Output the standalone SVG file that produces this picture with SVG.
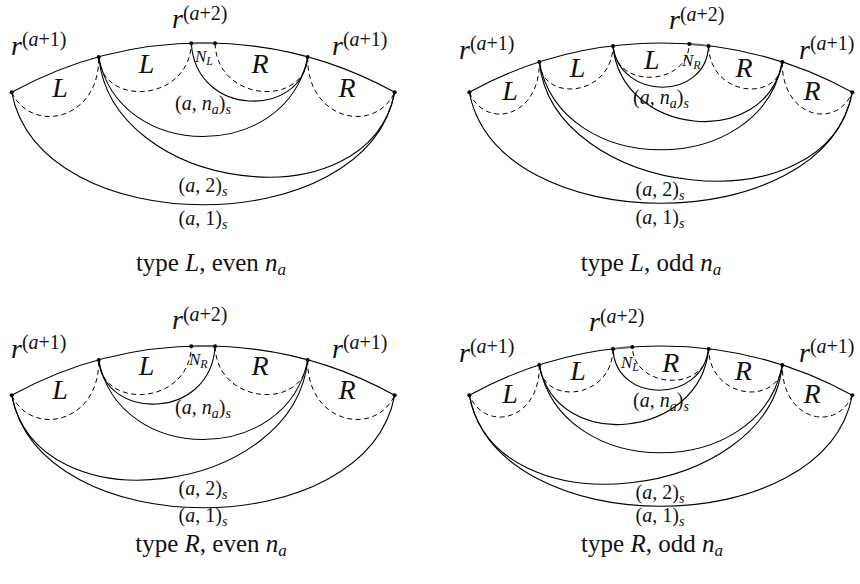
<svg xmlns="http://www.w3.org/2000/svg" xmlns:xlink="http://www.w3.org/1999/xlink" width="860" height="584" viewBox="0 0 860 584">
<defs>
<style>
.ln{fill:none;stroke:#000;stroke-width:1.1}
.da{fill:none;stroke:#000;stroke-width:1;stroke-dasharray:5 3.5}
.hl{fill:none;stroke:#666;stroke-width:1.9}
text{font-family:"Liberation Serif","Times New Roman",serif;fill:#111}
.big{font-size:28px;font-style:italic}
.sup{font-size:20px;font-style:normal}
.sm{font-size:20px}
.sub{font-size:14px}
.nn{font-size:17px;font-style:italic}
.nsub{font-size:12px}
.cap{font-size:25px}
.csub{font-size:17px}
.i{font-style:italic}
</style>
<circle id="dot" r="2" fill="#000"/>
</defs>

<!-- Panel 1: type L, even -->
<g id="panel1">
<g id="p1-connectors">
<path class="ln" d="M11.7,92.3 A396.6,396.6 0 0 1 394.7,92.3"/>
<path class="hl" d="M191.3,43.2 A396.6,396.6 0 0 1 215.1,43.2"/>
<path class="da" d="M11.7,92.3 C32,135 100,120 98.7,57"/>
<path class="da" d="M98.7,57 C102,108 190,102 191.3,43.2"/>
<path class="da" d="M215.1,43.2 C216.4,102 304.4,108 307.7,57"/>
<path class="da" d="M307.7,57 C306.4,120 374.4,135 394.7,92.3"/>
<path class="ln" d="M191.3,43.2 C196,118 302,118 307.7,57"/>
<path class="ln" d="M98.7,57 C119,163 287,163 307.7,57"/>
<path class="ln" d="M98.7,57 C112,192 368,226 394.7,92.3"/>
<path class="ln" d="M11.7,92.3 C40.7,242.3 365.7,242.3 394.7,92.3"/>
</g>
<g id="p1-n0"><use xlink:href="#dot" x="11.7" y="92.3"/></g>
<g id="p1-n1"><use xlink:href="#dot" x="98.7" y="57"/></g>
<g id="p1-n2"><use xlink:href="#dot" x="191.3" y="43.2"/></g>
<g id="p1-n3"><use xlink:href="#dot" x="215.1" y="43.2"/></g>
<g id="p1-n4"><use xlink:href="#dot" x="307.7" y="57"/></g>
<g id="p1-n5"><use xlink:href="#dot" x="394.7" y="92.3"/></g>
<g id="p1-labels">
<text class="big" x="11" y="55">r<tspan class="sup" dy="-9">(<tspan class="i">a</tspan>+1)</tspan></text>
<text class="big" x="172" y="28">r<tspan class="sup" dy="-8">(<tspan class="i">a</tspan>+2)</tspan></text>
<text class="big" x="332" y="55">r<tspan class="sup" dy="-9">(<tspan class="i">a</tspan>+1)</tspan></text>
<text class="big" x="60" y="97" text-anchor="middle">L</text>
<text class="big" x="146.5" y="73" text-anchor="middle">L</text>
<text class="big" x="260" y="73" text-anchor="middle">R</text>
<text class="big" x="347" y="97" text-anchor="middle">R</text>
<text class="nn" x="195" y="62">N<tspan class="nsub" dy="3">L</tspan></text>
<text class="sm" x="203" y="110" text-anchor="middle">(<tspan class="i">a</tspan>, <tspan class="i">n</tspan><tspan class="sub i" dy="4">a</tspan><tspan dy="-4">)</tspan><tspan class="sub i" dy="4">s</tspan></text>
<text class="sm" x="203" y="192" text-anchor="middle">(<tspan class="i">a</tspan>, 2)<tspan class="sub i" dy="4">s</tspan></text>
<text class="sm" x="203" y="225" text-anchor="middle">(<tspan class="i">a</tspan>, 1)<tspan class="sub i" dy="4">s</tspan></text>
<text class="cap" x="211" y="271" text-anchor="middle">type <tspan class="i">L</tspan>, even <tspan class="i">n</tspan><tspan class="csub i" dy="4">a</tspan></text>
</g>
</g>

<!-- Panel 2: type L, odd -->
<g id="panel2">
<g id="p2-connectors">
<path class="ln" d="M469.3,92.3 A396.6,396.6 0 0 1 852.3,92.3"/>
<path class="hl" d="M689.3,44.03 A396.6,396.6 0 0 1 708.6,45.9"/>
<path class="da" d="M469.3,92.3 C485,130 540,118 539.3,62.1"/>
<path class="da" d="M539.3,62.1 C542,103 612,97 613,45.9"/>
<path class="da" d="M613,45.9 C615,90 688,86 689.3,44.03"/>
<path class="da" d="M708.6,45.9 C709.6,97 779.6,103 782.3,62.1"/>
<path class="da" d="M782.3,62.1 C781.6,118 836.6,130 852.3,92.3"/>
<path class="ln" d="M613,45.9 C620,101 706,101 708.6,45.9"/>
<path class="ln" d="M613,45.9 C621,135.6 765,151.1 782.3,62.1"/>
<path class="ln" d="M539.3,62.1 C561.3,179 760.3,179 782.3,62.1"/>
<path class="ln" d="M539.3,62.1 C553,197 826,231 852.3,92.3"/>
<path class="ln" d="M469.3,92.3 C498,240.3 823.6,240.3 852.3,92.3"/>
</g>
<g id="p2-n0"><use xlink:href="#dot" x="469.3" y="92.3"/></g>
<g id="p2-n1"><use xlink:href="#dot" x="539.3" y="62.1"/></g>
<g id="p2-n2"><use xlink:href="#dot" x="613" y="45.9"/></g>
<g id="p2-n3"><use xlink:href="#dot" x="689.3" y="44.03"/></g>
<g id="p2-n4"><use xlink:href="#dot" x="708.6" y="45.9"/></g>
<g id="p2-n5"><use xlink:href="#dot" x="782.3" y="62.1"/></g>
<g id="p2-n6"><use xlink:href="#dot" x="852.3" y="92.3"/></g>
<g id="p2-labels">
<text class="big" x="459" y="59">r<tspan class="sup" dy="-9">(<tspan class="i">a</tspan>+1)</tspan></text>
<text class="big" x="669" y="29">r<tspan class="sup" dy="-8">(<tspan class="i">a</tspan>+2)</tspan></text>
<text class="big" x="799" y="59">r<tspan class="sup" dy="-9">(<tspan class="i">a</tspan>+1)</tspan></text>
<text class="big" x="510" y="100" text-anchor="middle">L</text>
<text class="big" x="577.5" y="77" text-anchor="middle">L</text>
<text class="big" x="651.7" y="69" text-anchor="middle">L</text>
<text class="big" x="744" y="77" text-anchor="middle">R</text>
<text class="big" x="812" y="100" text-anchor="middle">R</text>
<text class="nn" x="682" y="66">N<tspan class="nsub" dy="3">R</tspan></text>
<text class="sm" x="661" y="104" text-anchor="middle">(<tspan class="i">a</tspan>, <tspan class="i">n</tspan><tspan class="sub i" dy="4">a</tspan><tspan dy="-4">)</tspan><tspan class="sub i" dy="4">s</tspan></text>
<text class="sm" x="660" y="196" text-anchor="middle">(<tspan class="i">a</tspan>, 2)<tspan class="sub i" dy="4">s</tspan></text>
<text class="sm" x="660" y="224" text-anchor="middle">(<tspan class="i">a</tspan>, 1)<tspan class="sub i" dy="4">s</tspan></text>
<text class="cap" x="651" y="271" text-anchor="middle">type <tspan class="i">L</tspan>, odd <tspan class="i">n</tspan><tspan class="csub i" dy="4">a</tspan></text>
</g>
</g>

<!-- Panel 3: type R, even -->
<g id="panel3" transform="translate(0,303)">
<g id="p3-connectors">
<path class="ln" d="M11.7,92.3 A396.6,396.6 0 0 1 394.7,92.3"/>
<path class="hl" d="M191.3,43.2 A396.6,396.6 0 0 1 215.1,43.2"/>
<path class="da" d="M11.7,92.3 C32,135 100,120 98.7,57"/>
<path class="da" d="M98.7,57 C102,108 190,102 191.3,43.2"/>
<path class="da" d="M215.1,43.2 C216.4,102 304.4,108 307.7,57"/>
<path class="da" d="M307.7,57 C306.4,120 374.4,135 394.7,92.3"/>
<path class="ln" d="M98.7,57 C104.4,118 210.4,118 215.1,43.2"/>
<path class="ln" d="M98.7,57 C119,163 287,163 307.7,57"/>
<path class="ln" d="M11.7,92.3 C38.4,226 294.4,192 307.7,57"/>
<path class="ln" d="M11.7,92.3 C40.7,242.3 365.7,242.3 394.7,92.3"/>
</g>
<g id="p3-n0"><use xlink:href="#dot" x="11.7" y="92.3"/></g>
<g id="p3-n1"><use xlink:href="#dot" x="98.7" y="57"/></g>
<g id="p3-n2"><use xlink:href="#dot" x="191.3" y="43.2"/></g>
<g id="p3-n3"><use xlink:href="#dot" x="215.1" y="43.2"/></g>
<g id="p3-n4"><use xlink:href="#dot" x="307.7" y="57"/></g>
<g id="p3-n5"><use xlink:href="#dot" x="394.7" y="92.3"/></g>
<g id="p3-labels">
<text class="big" x="11" y="55">r<tspan class="sup" dy="-9">(<tspan class="i">a</tspan>+1)</tspan></text>
<text class="big" x="172" y="26">r<tspan class="sup" dy="-8">(<tspan class="i">a</tspan>+2)</tspan></text>
<text class="big" x="332" y="55">r<tspan class="sup" dy="-9">(<tspan class="i">a</tspan>+1)</tspan></text>
<text class="big" x="60" y="96" text-anchor="middle">L</text>
<text class="big" x="146.5" y="72" text-anchor="middle">L</text>
<text class="big" x="260" y="72" text-anchor="middle">R</text>
<text class="big" x="347" y="96" text-anchor="middle">R</text>
<text class="nn" x="189" y="62">N<tspan class="nsub" dy="3">R</tspan></text>
<text class="sm" x="203" y="111" text-anchor="middle">(<tspan class="i">a</tspan>, <tspan class="i">n</tspan><tspan class="sub i" dy="4">a</tspan><tspan dy="-4">)</tspan><tspan class="sub i" dy="4">s</tspan></text>
<text class="sm" x="203" y="192" text-anchor="middle">(<tspan class="i">a</tspan>, 2)<tspan class="sub i" dy="4">s</tspan></text>
<text class="sm" x="203" y="219" text-anchor="middle">(<tspan class="i">a</tspan>, 1)<tspan class="sub i" dy="4">s</tspan></text>
<text class="cap" x="211" y="249" text-anchor="middle">type <tspan class="i">R</tspan>, even <tspan class="i">n</tspan><tspan class="csub i" dy="4">a</tspan></text>
</g>
</g>

<!-- Panel 4: type R, odd -->
<g id="panel4" transform="translate(0,303)">
<g id="p4-connectors">
<path class="ln" d="M469.3,92.3 A396.6,396.6 0 0 1 852.3,92.3"/>
<path class="hl" d="M613,45.9 A396.6,396.6 0 0 1 632.3,44.03"/>
<path class="da" d="M852.3,92.3 C836.6,130 781.6,118 782.3,62.1"/>
<path class="da" d="M782.3,62.1 C779.6,103 709.6,97 708.6,45.9"/>
<path class="da" d="M708.6,45.9 C706.6,90 633.6,86 632.3,44.03"/>
<path class="da" d="M613,45.9 C612.3,97 542.3,103 539.3,62.1"/>
<path class="da" d="M539.3,62.1 C540.3,118 485.3,130 469.3,92.3"/>
<path class="ln" d="M708.6,45.9 C701.6,101 615.6,101 613,45.9"/>
<path class="ln" d="M708.6,45.9 C700.6,135.6 556.6,151.1 539.3,62.1"/>
<path class="ln" d="M539.3,62.1 C561.3,179 760.3,179 782.3,62.1"/>
<path class="ln" d="M782.3,62.1 C768.6,197 495.6,231 469.3,92.3"/>
<path class="ln" d="M469.3,92.3 C498,240.3 823.6,240.3 852.3,92.3"/>
</g>
<g id="p4-n0"><use xlink:href="#dot" x="469.3" y="92.3"/></g>
<g id="p4-n1"><use xlink:href="#dot" x="539.3" y="62.1"/></g>
<g id="p4-n2"><use xlink:href="#dot" x="613" y="45.9"/></g>
<g id="p4-n3"><use xlink:href="#dot" x="632.3" y="44.03"/></g>
<g id="p4-n4"><use xlink:href="#dot" x="708.6" y="45.9"/></g>
<g id="p4-n5"><use xlink:href="#dot" x="782.3" y="62.1"/></g>
<g id="p4-n6"><use xlink:href="#dot" x="852.3" y="92.3"/></g>
<g id="p4-labels">
<text class="big" x="459" y="59">r<tspan class="sup" dy="-9">(<tspan class="i">a</tspan>+1)</tspan></text>
<text class="big" x="589" y="28">r<tspan class="sup" dy="-8">(<tspan class="i">a</tspan>+2)</tspan></text>
<text class="big" x="799" y="59">r<tspan class="sup" dy="-9">(<tspan class="i">a</tspan>+1)</tspan></text>
<text class="big" x="510" y="100" text-anchor="middle">L</text>
<text class="big" x="578" y="77" text-anchor="middle">L</text>
<text class="big" x="670.8" y="69" text-anchor="middle">R</text>
<text class="big" x="743.3" y="77" text-anchor="middle">R</text>
<text class="big" x="812" y="100" text-anchor="middle">R</text>
<text class="nn" x="621" y="65">N<tspan class="nsub" dy="3">L</tspan></text>
<text class="sm" x="661" y="104" text-anchor="middle">(<tspan class="i">a</tspan>, <tspan class="i">n</tspan><tspan class="sub i" dy="4">a</tspan><tspan dy="-4">)</tspan><tspan class="sub i" dy="4">s</tspan></text>
<text class="sm" x="660" y="196" text-anchor="middle">(<tspan class="i">a</tspan>, 2)<tspan class="sub i" dy="4">s</tspan></text>
<text class="sm" x="660" y="219" text-anchor="middle">(<tspan class="i">a</tspan>, 1)<tspan class="sub i" dy="4">s</tspan></text>
<text class="cap" x="652" y="249" text-anchor="middle">type <tspan class="i">R</tspan>, odd <tspan class="i">n</tspan><tspan class="csub i" dy="4">a</tspan></text>
</g>
</g>
</svg>
